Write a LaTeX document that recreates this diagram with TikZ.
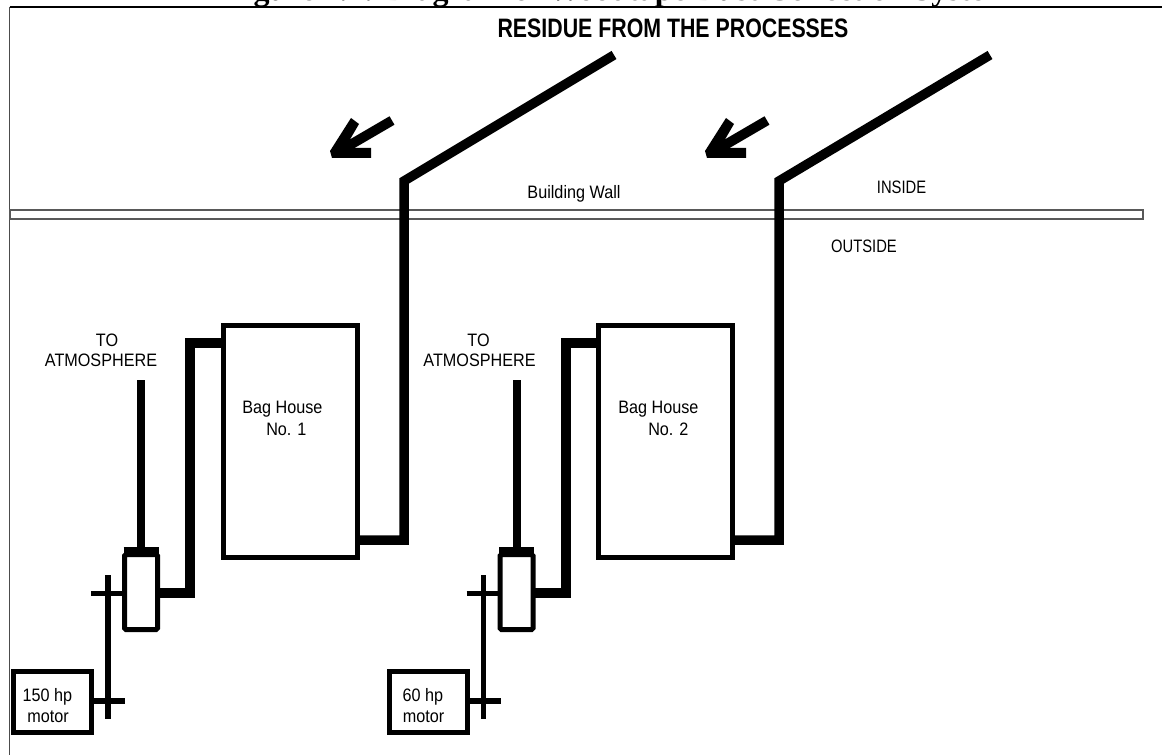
\documentclass[tikz,border=0pt]{standalone}
\usepackage{fontspec}
\setmainfont{Liberation Sans}
\newfontfamily\titleserif{Liberation Serif}
\newfontfamily\narrowsans[FakeStretch=0.9]{Liberation Sans}
\newfontfamily\narrowcaps[FakeStretch=0.82]{Liberation Sans}
\newfontfamily\narrowbold[FakeStretch=0.80]{Liberation Sans Bold}
\newcommand{\unitset}[8]{%
  \begin{scope}[xshift=#2*0.75pt]
    \node[bagbox] (bag#1) at (290,441) {};
    \node[blowerbox] (blower#1) at (141,592) {};
    \node[motorbox] (motor#1) at (52.5,702) {};
    \node[lbl] (hp#1) at (47.5,701.7) {#3};
    \node[lbl] (motorlbl#1) at (48,722.7) {motor};
    \node[lbl] (tolbl#1) at (#7,346) {TO};
    \node[lbl] (atmlbl#1) at (#8,366.7) {ATMOSPHERE};
    \node[lbl,anchor=base west] (baga#1) at (#4,413.5) {Bag House};
    \node[lbl,anchor=base west] (bagb#1) at (#5,435) {#6};
    \coordinate (stacktop#1) at (141,380);
    \coordinate (ductturn#1) at (190,343);
    \coordinate (ductlow#1) at (190,592.5);
    \coordinate (shafttop#1) at (108,575);
    \coordinate (shaftbot#1) at (108,719);
    \coordinate (beltl#1) at (91,593.5);
    \coordinate (beltm#1) at (125,701);
    \draw[black,line width=8*0.75pt] (stacktop#1) -- (blower#1.north -| stacktop#1);
    \draw[black,line width=10*0.75pt,line join=miter] (bag#1.west |- ductturn#1) -- (ductturn#1) -- (ductlow#1) -- (blower#1.east |- ductlow#1);
    \draw[black,line width=10*0.75pt] ([xshift=-1*0.75pt]blower#1.north west) ++(0,3*0.75pt) -- ++(35*0.75pt,0);
    \draw[black,line width=5.5*0.75pt] (shafttop#1) -- (shaftbot#1);
    \draw[black,line width=5.5*0.75pt] (beltl#1) -- (blower#1.west |- beltl#1);
    \draw[black,line width=6*0.75pt] (motor#1.east |- beltm#1) -- (beltm#1);
  \end{scope}}
\newcommand{\flowarrow}[2]{%
  \begin{scope}[xshift=#2*0.75pt]
    \coordinate (atail#1) at (392,120.5);
    \coordinate (atip#1) at (338,152);
    \draw[black,line width=9.8*0.75pt] (atail#1) -- (atip#1);
    \fill[black] (351,118) -- (330,151) -- (332,158) -- (371,158) -- (371,148) -- (345,148) -- (359,124) -- cycle;
  \end{scope}}
\tikzset{
  x=0.75pt,y=-0.75pt,
  framel/.style={black!70,line width=0.9pt},
  wallbox/.style={draw=black!65,line width=0.9pt,fill=white,inner sep=0,outer sep=0,minimum width=1133*0.75pt,minimum height=9*0.75pt},
  bagbox/.style={draw=black,line width=5*0.75pt,inner sep=0,outer sep=0,minimum width=134*0.75pt,minimum height=232*0.75pt},
  blowerbox/.style={draw=black,line width=5*0.75pt,inner sep=0,outer sep=0,minimum width=33*0.75pt,minimum height=75*0.75pt,rounded corners=1pt},
  motorbox/.style={draw=black,line width=5*0.75pt,inner sep=0,outer sep=0,minimum width=78*0.75pt,minimum height=61*0.75pt},
  lbl/.style={inner sep=0,anchor=base,font=\narrowsans\fontsize{13.5pt}{15pt}\selectfont},
  capslbl/.style={inner sep=0,anchor=base,font=\narrowcaps\fontsize{13.5pt}{15pt}\selectfont},
  duct/.style={black,line width=9.5*0.75pt,line join=miter}
}
\begin{document}
\begin{tikzpicture}
\useasboundingbox (0,0) rectangle (1162,755);
\fill[white] (0,0) rectangle (1162,755);
\node[inner sep=0,anchor=base west] (figtitle) at (225,0.5) {\titleserif\bfseries\fontsize{24pt}{26pt}\selectfont Figure 4.1: Diagram of Woodtape Dust Collection System};
\coordinate (ftl) at (9.5,7.5);
\coordinate (ftr) at (1162,7.5);
\coordinate (fbl) at (9.5,755);
\draw[black,line width=1.5pt] (ftl) -- (ftr);
\draw[framel] (ftl) -- (fbl);
\node[wallbox] (wall) at (576.5,214.5) {};
\node[inner sep=0] (residue) at (673,28) {\narrowbold\fontsize{20pt}{24pt}\selectfont RESIDUE FROM THE PROCESSES};
\node[lbl] (walllbl) at (574,199) {Building Wall};
\node[capslbl] (inside) at (901.5,194) {INSIDE};
\node[capslbl] (outside) at (864,252.7) {OUTSIDE};
\unitset{1}{0}{150 hp}{242}{266}{No. 1}{107}{101}
\unitset{2}{375.5}{60 hp}{242.5}{272.5}{No. 2}{103}{104}
\coordinate (pa) at (614,55);
\coordinate (pb) at (404,181);
\coordinate (pc) at (404,540);
\coordinate (qa) at (990,55);
\coordinate (qb) at (779,181);
\coordinate (qc) at (779,540);
\draw[duct] (pa) -- (pb) -- (pc) -- (bag1.east |- pc);
\draw[duct] (qa) -- (qb) -- (qc) -- (bag2.east |- qc);
\flowarrow{1}{0}
\flowarrow{2}{375}
\end{tikzpicture}
\end{document}
